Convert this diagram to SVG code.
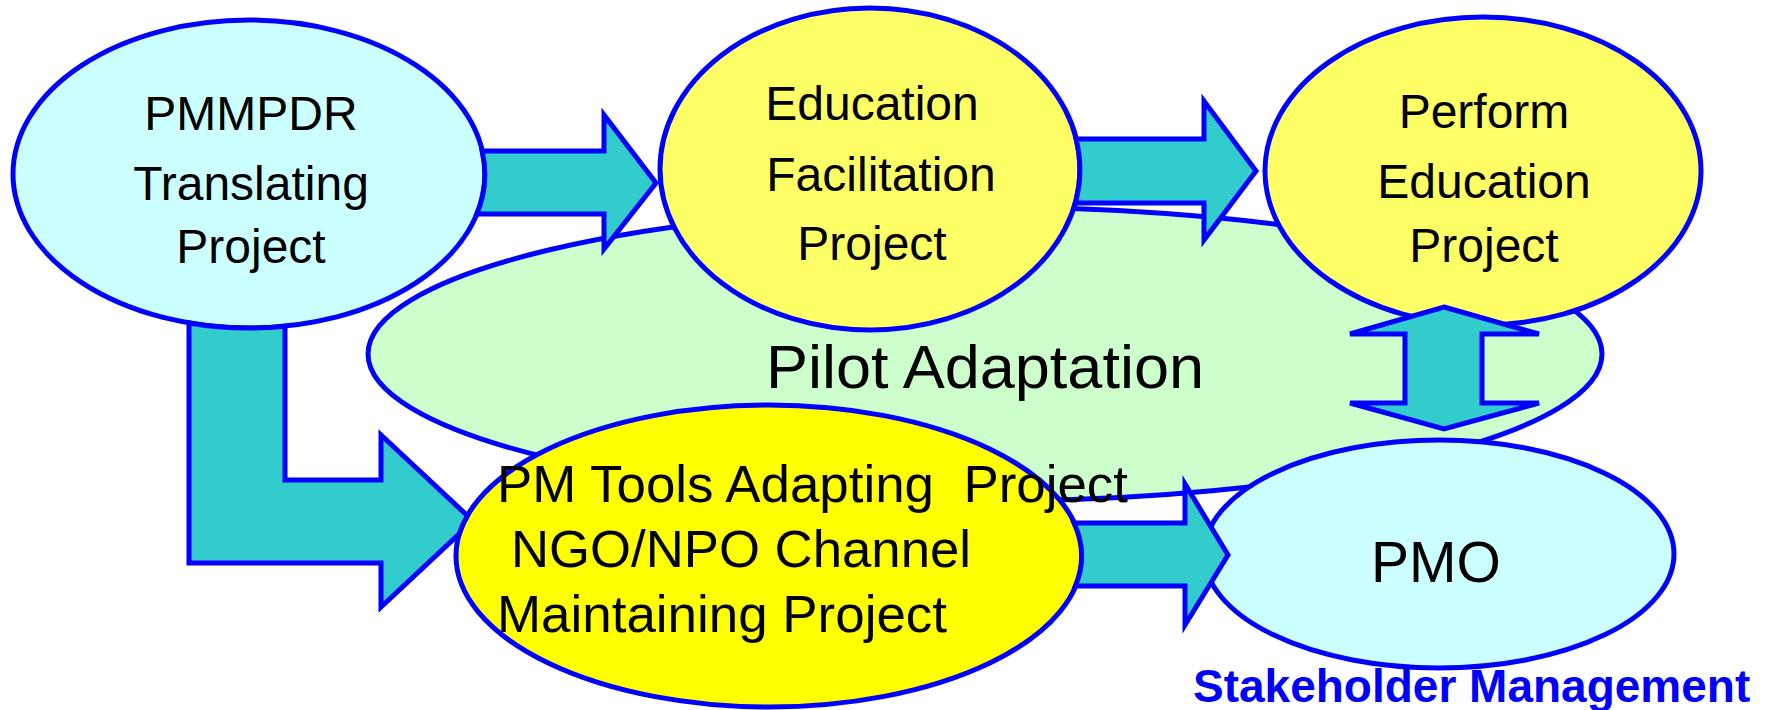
<svg xmlns="http://www.w3.org/2000/svg" width="1767" height="710" viewBox="0 0 1767 710">
<style>
  .node { stroke: #0000FF; stroke-width: 5; }
  .cyan { fill: #CCFFFF; }
  .lyel { fill: #FFFF66; }
  .yel { fill: #FFFF00; }
  .grn { fill: #CCFFCC; }
  .arrow { fill: #33CCCC; stroke: #0000FF; stroke-width: 5; stroke-linejoin: miter; }
  .t { font-family: "Liberation Sans", Arial, sans-serif; fill: #000000; }
  .t48 { font-size: 48px; text-anchor: middle; }
  .tpm { font-size: 52px; }
  .lbl { font-family: "Liberation Sans", Arial, sans-serif; font-weight: bold; font-size: 46px; fill: #0000FF; }
</style>
<rect width="1767" height="710" fill="#FFFFFF"/>
<g id="pilot-adaptation">
  <ellipse class="node grn" cx="985" cy="354" rx="617" ry="147"/>
  <text class="t" x="985" y="388" font-size="61" text-anchor="middle" textLength="438" lengthAdjust="spacingAndGlyphs">Pilot Adaptation</text>
</g>
<g id="pmmpdr">
  <ellipse class="node cyan" cx="249" cy="174" rx="236" ry="154"/>
  <text class="t t48" x="251" y="130">PMMPDR</text>
  <text class="t t48" x="251" y="200">Translating</text>
  <text class="t t48" x="251" y="263">Project</text>
</g>
<g id="education-facilitation">
  <ellipse class="node lyel" cx="870" cy="169" rx="210" ry="161"/>
  <text class="t t48" x="872" y="120">Education</text>
  <text class="t t48" x="881" y="191">Facilitation</text>
  <text class="t t48" x="872" y="260">Project</text>
</g>
<g id="perform-education">
  <ellipse class="node lyel" cx="1483" cy="171" rx="218" ry="154"/>
  <text class="t t48" x="1484" y="128">Perform</text>
  <text class="t t48" x="1484" y="198">Education</text>
  <text class="t t48" x="1484" y="262">Project</text>
</g>
<g id="pm-tools">
  <ellipse class="node yel" cx="769" cy="556" rx="313" ry="151"/>
  <text class="t tpm" x="497" y="502" xml:space="preserve" textLength="631" lengthAdjust="spacingAndGlyphs">PM Tools Adapting  Project</text>
  <text class="t tpm" x="511" y="567" textLength="460" lengthAdjust="spacingAndGlyphs">NGO/NPO Channel</text>
  <text class="t tpm" x="497" y="632" textLength="450" lengthAdjust="spacingAndGlyphs">Maintaining Project</text>
</g>
<g id="pmo">
  <ellipse class="node cyan" cx="1439" cy="554" rx="235" ry="114"/>
  <text class="t" x="1436" y="582" font-size="57" text-anchor="middle">PMO</text>
  <text class="lbl" x="1193" y="702">Stakeholder Management</text>
</g>
<g id="connectors">
  <path class="arrow" d="M 482.1 151 L 604 151 L 604 115 L 656 183 L 604 249 L 604 214 L 476.8 214 A 236 154 0 0 0 482.1 151 Z"/>
  <path class="arrow" d="M 1076 139 L 1204 139 L 1204 101 L 1256 171 L 1204 240 L 1204 203 L 1075.3 203 A 210 161 0 0 0 1076 139 Z"/>
  <path class="arrow" d="M 189 323 A 236 154 0 0 0 285 326.2 L 285 480 L 381 480 L 381 435 L 467.4 515.7 A 313 151 0 0 0 459.3 533.8 L 381 607 L 381 563 L 189 563 Z"/>
  <path class="arrow" d="M 1074 523 L 1185 523 L 1185 484 L 1228 555 L 1185 625 L 1185 586 L 1075.4 586 A 313 151 0 0 0 1074 523 Z"/>
  <path class="arrow" d="M 1444 307 L 1539 334 L 1482 334 L 1482 403 L 1539 403 L 1444 429 L 1350 403 L 1405 403 L 1405 334 L 1350 334 Z"/>
</g>
</svg>
